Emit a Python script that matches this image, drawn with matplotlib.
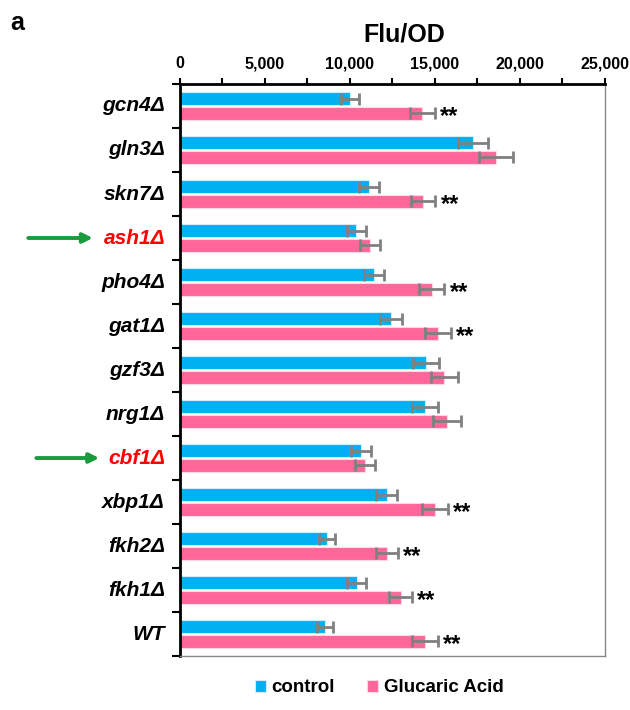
import numpy as np
import matplotlib.pyplot as plt

plt.rcParams['font.family'] = ['Liberation Sans', 'DejaVu Sans']

# 菌株（从上到下）
strains = ['gcn4Δ', 'gln3Δ', 'skn7Δ', 'ash1Δ', 'pho4Δ', 'gat1Δ', 'gzf3Δ',
           'nrg1Δ', 'cbf1Δ', 'xbp1Δ', 'fkh2Δ', 'fkh1Δ', 'WT']
control = [10000, 17250, 11100, 10370, 11400, 12430, 14450,
           14400, 10650, 12160, 8630, 10400, 8530]
control_err = [520, 880, 590, 550, 600, 650, 760,
               750, 580, 630, 460, 560, 480]
glucaric = [14250, 18600, 14300, 11180, 14800, 15200, 15550,
            15700, 10900, 14980, 12160, 12980, 14400]
glucaric_err = [740, 1000, 730, 580, 750, 760, 810,
                810, 590, 770, 650, 660, 750]
signif = ['**', '', '**', '', '**', '**', '', '', '', '**', '**', '**', '**']
highlight = {'ash1Δ': (-0.357, -0.205), 'cbf1Δ': (-0.338, -0.19)}

c_blue = '#00B0F0'
c_pink = '#FF6699'

fig = plt.figure(figsize=(6.3, 7.1), dpi=100)
ax = fig.add_axes([0.2857, 0.076, 0.6746, 0.8057])

y = np.arange(len(strains))
h = 0.295
off = 0.166
err_kw = dict(ecolor='#808080', elinewidth=2, capsize=4, capthick=2)
ax.barh(y - off, control, height=h, color=c_blue, edgecolor='#cdeefc',
        linewidth=0.8, xerr=control_err, error_kw=err_kw, label='control')
ax.barh(y + off, glucaric, height=h, color=c_pink, edgecolor='#ffd6e4',
        linewidth=0.8, xerr=glucaric_err, error_kw=err_kw, label='Glucaric Acid')

# 显著性标记
for i, s in enumerate(signif):
    if s:
        ax.text(glucaric[i] + glucaric_err[i] + 300, y[i] + off + 0.07, s,
                ha='left', va='center', fontsize=17, fontweight='bold')

ax.set_xlim(0, 25000)
ax.set_ylim(len(strains) - 0.5, -0.5)

# 上方坐标轴
ax.xaxis.tick_top()
ax.set_xticks(np.arange(0, 25001, 5000))
ax.set_xticks(np.arange(2500, 25000, 5000), minor=True)
ax.set_xticklabels([f'{v:,}' for v in range(0, 25001, 5000)],
                   fontsize=11.5, fontweight='bold')
ax.tick_params(axis='x', which='both', direction='out', length=4, width=1.5,
               pad=5, bottom=False)

# 左侧分组刻度
ax.set_yticks(np.arange(-0.5, len(strains), 1.0))
ax.set_yticklabels([])
ax.tick_params(axis='y', direction='out', length=6, width=1.5)
for i, name in enumerate(strains):
    col = 'red' if name in highlight else 'black'
    ax.text(-0.035, y[i], name, transform=ax.get_yaxis_transform(),
            ha='right', va='center', fontsize=15, fontweight='bold',
            fontstyle='italic', color=col)
    if name in highlight:
        x0, x1 = highlight[name]
        ax.annotate('', xy=(x1, y[i]), xytext=(x0, y[i]),
                    xycoords=ax.get_yaxis_transform(),
                    textcoords=ax.get_yaxis_transform(),
                    arrowprops=dict(arrowstyle='-|>', color='#1a9c3e',
                                    lw=2.8, mutation_scale=14,
                                    shrinkA=0, shrinkB=0),
                    annotation_clip=False)

for side in ['top', 'left']:
    ax.spines[side].set_linewidth(2)
    ax.spines[side].set_color('black')
for side in ['right', 'bottom']:
    ax.spines[side].set_linewidth(1)
    ax.spines[side].set_color('#888888')

fig.text(0.641, 0.951, 'Flu/OD', ha='center', va='center',
         fontsize=18, fontweight='bold')
fig.text(0.016, 0.968, 'a', ha='left', va='center', fontsize=18,
         fontweight='bold')

fig.legend(loc='center', bbox_to_anchor=(0.602, 0.031), ncol=2, frameon=False,
           prop=dict(size=13.5, weight='bold'), handlelength=0.6,
           handleheight=0.6, handletextpad=0.3, columnspacing=1.7)

fig.savefig('out.png', dpi=100)
